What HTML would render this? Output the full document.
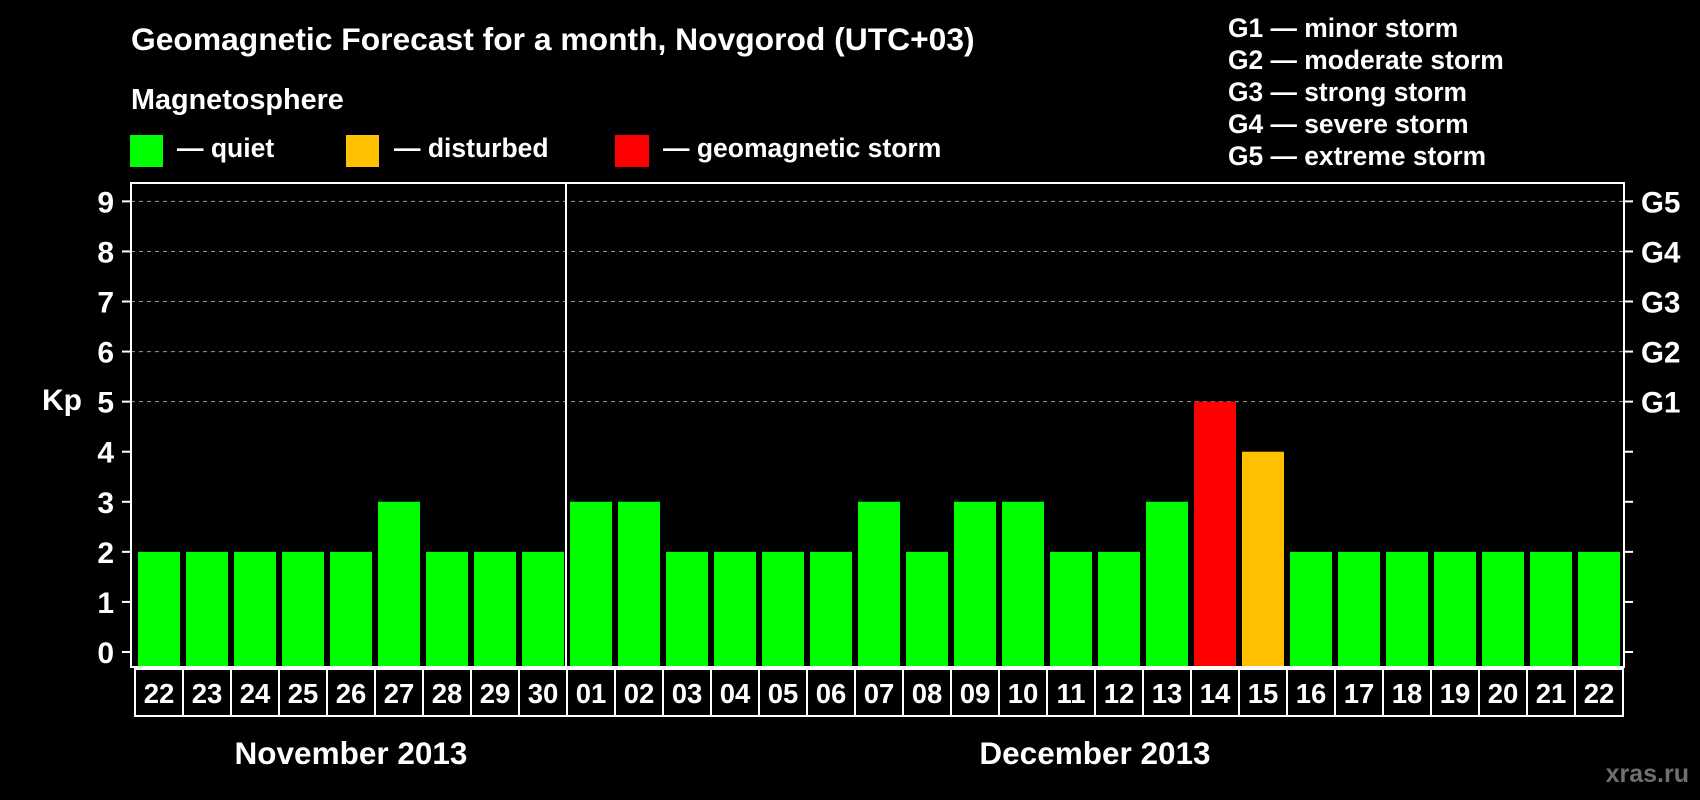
<!DOCTYPE html>
<html><head><meta charset="utf-8"><style>
html,body{margin:0;padding:0;background:#000;}
svg{display:block;font-family:"Liberation Sans",Arial,sans-serif;font-weight:bold;}
</style></head><body>
<svg id="chart" width="1700" height="800" viewBox="0 0 1700 800" xmlns="http://www.w3.org/2000/svg">
<rect width="1700" height="800" fill="#000"/>
<text x="131" y="50" fill="#fff" font-size="31.8">Geomagnetic Forecast for a month, Novgorod (UTC+03)</text>
<text x="131" y="109" fill="#fff" font-size="28.8">Magnetosphere</text>
<g><rect x="130" y="135" width="33" height="32" fill="#00ff00"/><text x="177" y="157" fill="#fff" font-size="26.5">— quiet</text></g>
<g><rect x="346" y="135" width="33" height="32" fill="#ffc000"/><text x="394" y="157" fill="#fff" font-size="26.5">— disturbed</text></g>
<g><rect x="615" y="135" width="34" height="32" fill="#ff0000"/><text x="663" y="157" fill="#fff" font-size="26.5">— geomagnetic storm</text></g>
<g fill="#fff" font-size="26.4">
<text x="1228" y="37">G1 — minor storm</text>
<text x="1228" y="69">G2 — moderate storm</text>
<text x="1228" y="101">G3 — strong storm</text>
<text x="1228" y="133">G4 — severe storm</text>
<text x="1228" y="165">G5 — extreme storm</text>
</g>
<text x="42" y="410" fill="#fff" font-size="30">Kp</text>
<g id="grid"></g><g id="bars"></g><g id="axes"></g><g id="xcells"></g>
<text x="351" y="764" fill="#fff" font-size="31.5" text-anchor="middle">November 2013</text>
<text x="1095" y="764" fill="#fff" font-size="31.5" text-anchor="middle">December 2013</text>
<text x="1689" y="782" fill="#707070" font-size="25" text-anchor="end">xras.ru</text>
</svg>
<script>
const days = ["22","23","24","25","26","27","28","29","30","01","02","03","04","05","06","07","08","09","10","11","12","13","14","15","16","17","18","19","20","21","22"];
const kpValues = [2,2,2,2,2,3,2,2,2,3,3,2,2,2,2,3,2,3,3,2,2,3,5,4,2,2,2,2,2,2,2];
const yTicks = [0,1,2,3,4,5,6,7,8,9];
const gLabels = ["G1","G2","G3","G4","G5"];
const gLevels = [5,6,7,8,9];
const monthBreakIndex = 9;

const NS="http://www.w3.org/2000/svg";
const L=131,R=1624,T=183,B=667,x0=135,pitch=48;
function y(v){return 652-50.07*v;}
function xs(i){return x0+i*pitch;}
function mk(tag,attrs,parent){const e=document.createElementNS(NS,tag);for(const k in attrs)e.setAttribute(k,attrs[k]);parent.appendChild(e);return e;}
const grid=document.getElementById('grid'),bars=document.getElementById('bars'),axes=document.getElementById('axes'),cells=document.getElementById('xcells');
gLevels.forEach((v,i)=>{
  const l=mk('line',{x1:L,x2:R,y1:y(v),y2:y(v),stroke:'#999','stroke-width':1,'stroke-dasharray':'4,4'},grid);
  
  
  const t=mk('text',{x:1641,y:y(v)+11,fill:'#fff','font-size':29.5},axes);
  t.textContent=gLabels[i];
  
  
});
kpValues.forEach((v,i)=>{
  const c=v>=5?'#ff0000':(v>=4?'#ffc000':'#00ff00');
  const r=mk('rect',{x:xs(i)+3,y:y(v),width:42,height:B-1-y(v),fill:c},bars);
  
  
});
const frame=mk('rect',{x:L,y:T,width:R-L,height:B-T,fill:'none',stroke:'#fff','stroke-width':2},axes);


const div=mk('line',{x1:xs(monthBreakIndex)-1,x2:xs(monthBreakIndex)-1,y1:T,y2:B,stroke:'#fff','stroke-width':2},axes);


yTicks.forEach(v=>{
  mk('line',{x1:L-9,x2:L,y1:y(v),y2:y(v),stroke:'#fff','stroke-width':2},axes);
  mk('line',{x1:R,x2:R+9,y1:y(v),y2:y(v),stroke:'#fff','stroke-width':2},axes);
  const t=mk('text',{x:114,y:y(v)+11,fill:'#fff','font-size':30,'text-anchor':'end'},axes);
  t.textContent=v;
  
  
});
days.forEach((d,i)=>{
  const r=mk('rect',{x:xs(i),y:669,width:pitch,height:47,fill:'#000',stroke:'#fff','stroke-width':2},cells);
  
  
  const t=mk('text',{x:xs(i)+pitch/2,y:703,fill:'#fff','font-size':27.5,'text-anchor':'middle'},cells);
  t.textContent=d;
  
  
});
</script>
</body></html>
